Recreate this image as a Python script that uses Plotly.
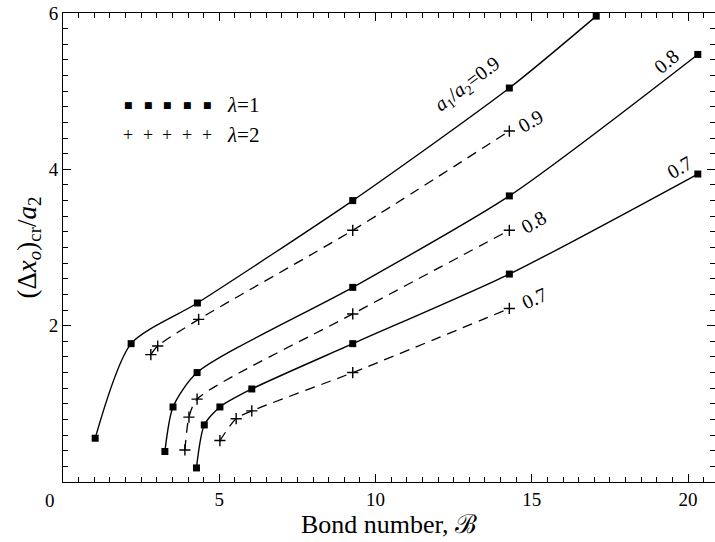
import plotly.graph_objects as go

# ---------------- data ----------------
# lambda = 1 (solid lines, square markers)
x_l1_09 = [1.03, 2.18, 4.30, 9.27, 14.28, 17.06]
y_l1_09 = [0.56, 1.77, 2.29, 3.60, 5.04, 5.96]
x_l1_08 = [3.26, 3.52, 4.29, 9.27, 14.28, 20.31]
y_l1_08 = [0.39, 0.96, 1.40, 2.49, 3.66, 5.47]
x_l1_07 = [4.27, 4.52, 5.02, 6.04, 9.27, 14.28, 20.31]
y_l1_07 = [0.18, 0.73, 0.96, 1.19, 1.77, 2.66, 3.94]

# lambda = 2 (dashed lines, cross markers)
x_l2_09 = [2.81, 3.03, 4.34, 9.27, 14.28]
y_l2_09 = [1.63, 1.74, 2.08, 3.22, 4.49]
x_l2_08 = [3.90, 4.03, 4.29, 9.27, 14.28]
y_l2_08 = [0.41, 0.83, 1.06, 2.15, 3.22]
x_l2_07 = [5.02, 5.54, 6.04, 9.27, 14.28]
y_l2_07 = [0.53, 0.81, 0.91, 1.40, 2.22]

x_ticks = [0, 5, 10, 15, 20]
x_ticktext = ["", "5", "10", "15", "20"]
y_ticks = [0, 2, 4, 6]
y_ticktext = ["", "2", "4", "6"]

# curve labels: (x, y, text, angle)
curve_labels = [
    (12.96, 5.08, "<i>a</i><sub>1</sub>/<i>a</i><sub>2</sub>=0.9", -37),
    (14.96, 4.62, "0.9", -30),
    (19.32, 5.38, "0.8", -40),
    (15.05, 3.33, "0.8", -30),
    (19.74, 4.03, "0.7", -30),
    (15.10, 2.35, "0.7", -25),
]

legend_labels = ["<i>λ</i>=1", "<i>λ</i>=2"]

FONT = "Liberation Serif"

fig = go.Figure()

solid = [(x_l1_09, y_l1_09), (x_l1_08, y_l1_08), (x_l1_07, y_l1_07)]
dashed = [(x_l2_09, y_l2_09), (x_l2_08, y_l2_08), (x_l2_07, y_l2_07)]

for xs, ys in solid:
    fig.add_trace(go.Scatter(
        x=xs, y=ys, mode="lines+markers",
        line=dict(color="black", width=1.4, shape="spline", smoothing=0.7),
        marker=dict(symbol="square", size=7, color="black"),
        showlegend=False, cliponaxis=False))

for xs, ys in dashed:
    fig.add_trace(go.Scatter(
        x=xs, y=ys, mode="lines+markers",
        line=dict(color="black", width=1.3, shape="spline", smoothing=0.7, dash="10px,7px"),
        marker=dict(symbol="cross-thin", size=8, color="black",
                    line=dict(color="black", width=1.4)),
        showlegend=False, cliponaxis=False))

annotations = []
for x, y, t, a in curve_labels:
    annotations.append(dict(x=x, y=y, xref="x", yref="y", text=t, textangle=a,
                            xanchor="center", yanchor="middle",
                            showarrow=False, font=dict(family=FONT, size=20, color="black")))

# legend built from text glyphs
def px2paper(px, py):
    return (px - 63) / 652.0, (481.7 - py) / 468.7

swatch_px = [128, 148, 167, 187, 207]
for sx in swatch_px:
    lx, ly = px2paper(sx, 105)
    annotations.append(dict(x=lx, y=ly, xref="paper", yref="paper", text="■",
                            xanchor="center", yanchor="middle", showarrow=False,
                            font=dict(family="DejaVu Sans", size=9, color="black")))
    lx, ly = px2paper(sx, 135)
    annotations.append(dict(x=lx, y=ly, xref="paper", yref="paper", text="+",
                            xanchor="center", yanchor="middle", showarrow=False,
                            font=dict(family=FONT, size=18, color="black")))
for py, lab in zip([105, 135], legend_labels):
    lx, ly = px2paper(225, py)
    annotations.append(dict(x=lx, y=ly, xref="paper", yref="paper", xanchor="left",
                            yanchor="middle", text=lab, showarrow=False,
                            font=dict(family=FONT, size=21, color="black")))

# origin label "0"
ox, oy = px2paper(50, 500)
annotations.append(dict(x=ox, y=oy, xref="paper", yref="paper", text="0",
                        xanchor="center", yanchor="middle",
                        showarrow=False, font=dict(family=FONT, size=19, color="black")))

fig.update_layout(
    width=715, height=542,
    margin=dict(l=63, r=0, t=13, b=60),
    plot_bgcolor="white", paper_bgcolor="white",
    font=dict(family=FONT, size=19, color="black"),
    annotations=annotations,
    xaxis=dict(range=[0, 20.86], showline=True, linecolor="black", linewidth=1,
               mirror="ticks", ticks="inside", ticklen=8, tickcolor="black",
               tickvals=x_ticks, ticktext=x_ticktext, showgrid=False, zeroline=False,
               minor=dict(ticks="inside", ticklen=5, dtick=0.5, tick0=0, tickcolor="black"),
               tickfont=dict(family=FONT, size=19),
               title=dict(text="Bond number, ℬ", font=dict(family=FONT, size=26), standoff=6)),
    yaxis=dict(range=[0, 6], showline=True, linecolor="black", linewidth=1,
               mirror="ticks", ticks="inside", ticklen=8, tickcolor="black",
               tickvals=y_ticks, ticktext=y_ticktext, showgrid=False, zeroline=False,
               minor=dict(ticks="inside", ticklen=5, dtick=0.2, tick0=0, tickcolor="black"),
               tickfont=dict(family=FONT, size=19),
               title=dict(text="(Δ<i>x</i><sub><i>o</i></sub>)<sub>cr</sub>/<i>a</i><sub>2</sub>",
                          font=dict(family=FONT, size=27), standoff=4)),
)

fig.write_html("out.html")
